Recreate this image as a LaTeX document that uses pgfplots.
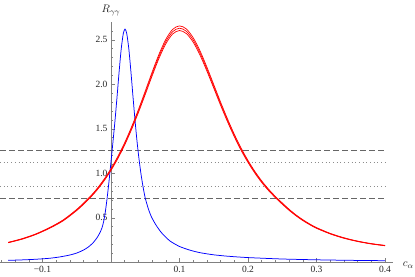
\documentclass[border=0pt]{standalone}
\usepackage{fontspec}
\setmainfont{Liberation Serif}
\usepackage{pgfplots}
\usepackage{pgfplotstable}
\pgfplotsset{compat=1.18}

\pgfplotstableread{
x lo mid hi
-0.15 0.220 0.222 0.224
-0.13 0.259 0.262 0.265
-0.11 0.312 0.315 0.318
-0.09 0.381 0.385 0.389
-0.07 0.465 0.470 0.475
-0.05 0.582 0.588 0.594
-0.04 0.652 0.659 0.666
-0.03 0.728 0.735 0.742
-0.02 0.815 0.823 0.831
-0.01 0.916 0.925 0.934
0.00 1.032 1.042 1.052
0.01 1.165 1.177 1.189
0.02 1.318 1.331 1.344
0.03 1.491 1.506 1.521
0.04 1.681 1.698 1.715
0.05 1.885 1.904 1.923
0.06 2.093 2.114 2.135
0.07 2.290 2.313 2.336
0.08 2.454 2.479 2.504
0.09 2.565 2.591 2.617
0.10 2.604 2.630 2.656
0.11 2.570 2.596 2.622
0.12 2.473 2.498 2.523
0.13 2.327 2.351 2.375
0.14 2.149 2.171 2.193
0.15 1.957 1.977 1.997
0.16 1.764 1.782 1.800
0.17 1.581 1.597 1.613
0.18 1.411 1.425 1.439
0.19 1.257 1.270 1.283
0.20 1.122 1.133 1.144
0.21 1.002 1.012 1.022
0.22 0.897 0.906 0.915
0.23 0.806 0.814 0.822
0.24 0.726 0.733 0.740
0.25 0.653 0.660 0.667
0.26 0.584 0.590 0.596
0.27 0.523 0.528 0.533
0.28 0.469 0.474 0.479
0.29 0.423 0.427 0.431
0.30 0.382 0.386 0.390
0.32 0.319 0.322 0.325
0.34 0.270 0.273 0.276
0.36 0.234 0.236 0.238
0.38 0.206 0.208 0.210
0.40 0.186 0.188 0.190
}\redtab

\pgfplotstableread{
x y
-0.15 0.022
-0.13 0.027
-0.11 0.034
-0.09 0.045
-0.075 0.060
-0.06 0.082
-0.05 0.104
-0.04 0.138
-0.033 0.172
-0.026 0.22
-0.02 0.28
-0.016 0.335
-0.013 0.39
-0.0105 0.465
-0.008 0.58
-0.0055 0.73
-0.003 0.90
0.0 1.13
0.003 1.361
0.006 1.603
0.009 1.873
0.012 2.151
0.015 2.401
0.018 2.571
0.0205 2.62
0.023 2.571
0.026 2.401
0.029 2.151
0.032 1.873
0.035 1.603
0.038 1.361
0.041 1.155
0.044 0.982
0.047 0.84
0.050 0.722
0.055 0.59
0.0594 0.505
0.066 0.415
0.074 0.33
0.086 0.24
0.1 0.178
0.115 0.137
0.13 0.108
0.15 0.084
0.171 0.068
0.2 0.053
0.25 0.037
0.3 0.028
0.35 0.022
0.4 0.018
}\bluetab

\begin{document}
\begin{tikzpicture}
\begin{axis}[
  x=685pt, y=89pt,
  axis lines=middle,
  xmin=-0.162, xmax=0.412, ymin=0, ymax=2.70,
  axis line style={draw=black!50, line width=0.5pt, -},
  xtick={-0.1,0.1,0.2,0.3,0.4},
  xticklabels={−0.1,0.1,0.2,0.3,0.4},
  ytick={0.5,1,1.5,2,2.5},
  yticklabels={0.5,1.0,1.5,2.0,2.5},
  minor xtick={-0.16,-0.14,-0.12,-0.08,-0.06,-0.04,-0.02,0.02,0.04,0.06,0.08,0.12,0.14,0.16,0.18,0.22,0.24,0.26,0.28,0.32,0.34,0.36,0.38},
  minor ytick={0.1,0.2,0.3,0.4,0.6,0.7,0.8,0.9,1.1,1.2,1.3,1.4,1.6,1.7,1.8,1.9,2.1,2.2,2.3,2.4,2.6},
  tick align=inside,
  major tick length=4pt, minor tick length=2.5pt,
  every tick/.style={draw=black!50, line width=0.5pt},
  ticklabel style={font=\fontsize{9.5}{11}\selectfont, text=black!85},
  clip=false,
  xlabel={$c_\alpha$}, ylabel={$R_{\gamma\gamma}$},
  every axis x label/.style={at={(axis cs:0.434,-0.03)}, anchor=center, font=\fontsize{11}{12}\selectfont, text=black!85},
  every axis y label/.style={at={(axis cs:0,2.83)}, anchor=center, font=\fontsize{11}{12}\selectfont, text=black!85},
]
\addplot[draw=black!60, line width=0.6pt, dash pattern=on 5.5pt off 3.5pt] coordinates {(-0.162,1.255) (0.4,1.255)};
\addplot[draw=black!60, line width=0.6pt, dash pattern=on 5.5pt off 3.5pt] coordinates {(-0.162,0.715) (0.4,0.715)};
\addplot[draw=black!45, line width=0.6pt, dash pattern=on 0.7pt off 3pt] coordinates {(-0.162,1.12) (0.405,1.12)};
\addplot[draw=black!45, line width=0.6pt, dash pattern=on 0.7pt off 3pt] coordinates {(-0.162,0.85) (0.405,0.85)};
\addplot[blue, line width=0.75pt, smooth, tension=0.4] table[x=x, y=y] {\bluetab};
\addplot[red, line width=0.7pt, smooth, tension=0.5] table[x=x, y=lo] {\redtab};
\addplot[red, line width=0.7pt, smooth, tension=0.5] table[x=x, y=mid] {\redtab};
\addplot[red, line width=0.7pt, smooth, tension=0.5] table[x=x, y=hi] {\redtab};
\coordinate (bl) at (axis cs:-0.162,-0.165);
\coordinate (tr) at (axis cs:0.4438,2.947);
\end{axis}
\pgfresetboundingbox
\path[use as bounding box] (bl) rectangle (tr);
\end{tikzpicture}
\end{document}
